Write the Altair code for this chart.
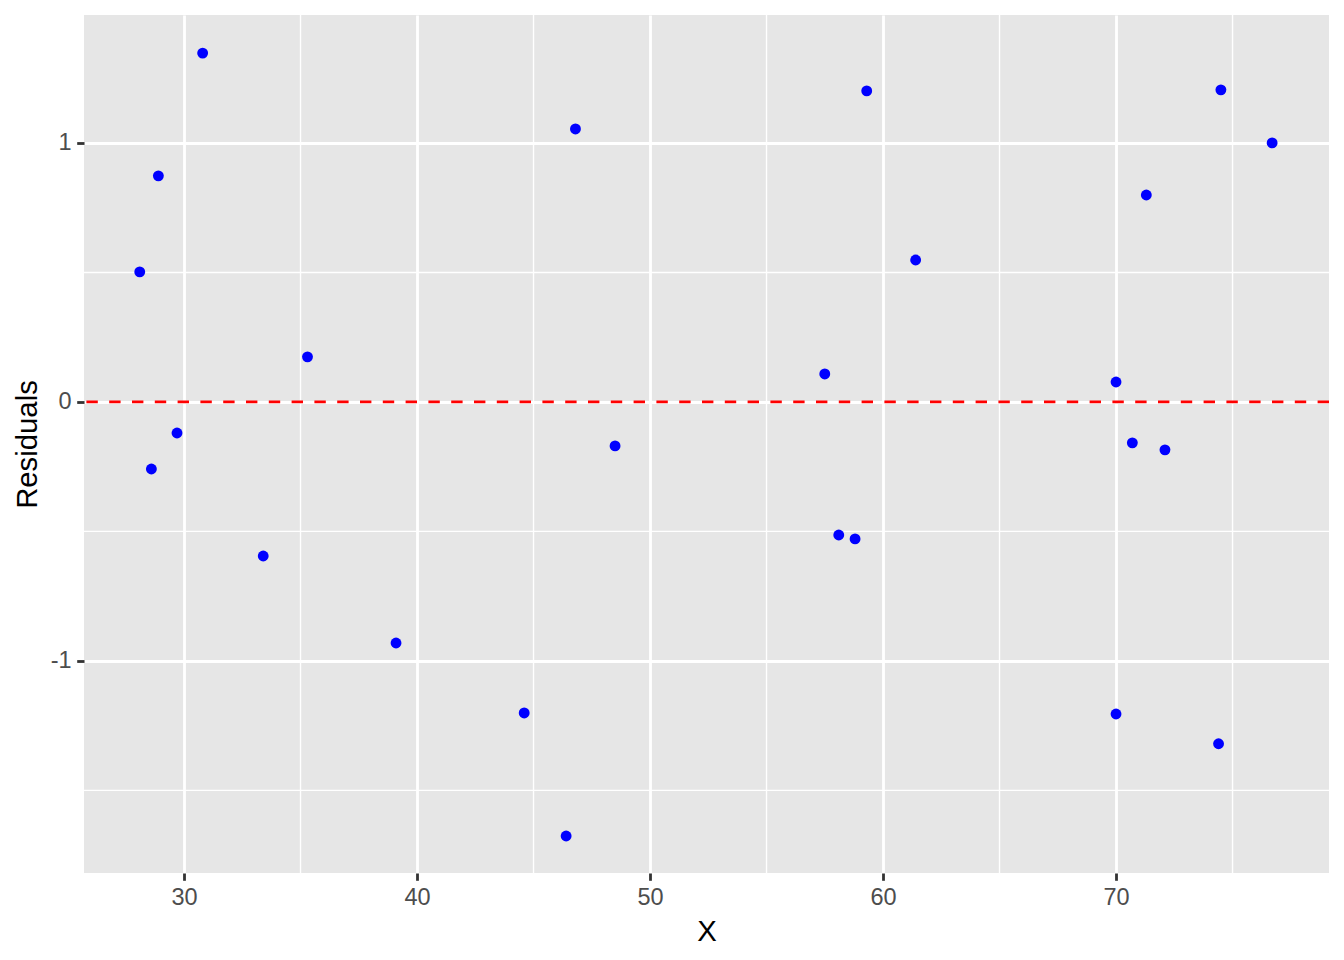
import altair as alt
import pandas as pd

# Data
x_vals = [28.1, 28.9, 28.6, 29.7, 30.8, 33.4, 35.3, 39.1, 44.6, 46.4, 46.8, 48.5,
          57.5, 58.1, 58.8, 59.3, 61.4, 70.0, 70.0, 70.7, 71.3, 72.1, 74.4, 74.5, 76.7]
resid_vals = [0.502, 0.873, -0.259, -0.120, 1.347, -0.595, 0.174, -0.931, -1.201, -1.676,
              1.054, -0.170, 0.108, -0.514, -0.529, 1.201, 0.548, 0.077, -1.205, -0.158,
              0.799, -0.185, -1.320, 1.205, 1.000]

x_major = [30, 40, 50, 60, 70]
x_minor = [35, 45, 55, 65, 75]
y_major = [-1, 0, 1]
y_minor = [-1.5, -0.5, 0.5]
hline_y = [0]

x_domain = [25.708, 79.14]
y_domain = [-1.819, 1.494]

points = pd.DataFrame({"X": x_vals, "Residuals": resid_vals})
xminor_df = pd.DataFrame({"X": x_minor})
yminor_df = pd.DataFrame({"Residuals": y_minor})
hline_df = pd.DataFrame({"Residuals": hline_y})

xscale = alt.Scale(domain=x_domain, nice=False, zero=False)
yscale = alt.Scale(domain=y_domain, nice=False, zero=False)

xaxis = alt.Axis(values=x_major, title="X", labelExpr="'' + datum.value")
yaxis = alt.Axis(values=y_major, title="Residuals", labelExpr="'' + datum.value")

minor_x = alt.Chart(xminor_df).mark_rule(color="white", strokeWidth=1.4).encode(
    x=alt.X("X:Q", scale=xscale, axis=xaxis)
)
minor_y = alt.Chart(yminor_df).mark_rule(color="white", strokeWidth=1.4).encode(
    y=alt.Y("Residuals:Q", scale=yscale, axis=yaxis)
)
hline = alt.Chart(hline_df).mark_rule(color="#FF0000", strokeWidth=2.6,
                                       strokeDash=[11.4, 11.4]).encode(
    y=alt.Y("Residuals:Q", scale=yscale, axis=yaxis)
)
pts = alt.Chart(points).mark_circle(color="#0000FF", opacity=1, size=118).encode(
    x=alt.X("X:Q", scale=xscale, axis=xaxis),
    y=alt.Y("Residuals:Q", scale=yscale, axis=yaxis),
)

chart = alt.layer(minor_x, minor_y, hline, pts).properties(
    width=1245, height=858,
    autosize=alt.AutoSizeParams(type="none"),
    padding={"left": 76, "top": 7, "right": 7, "bottom": 76},
    background="white",
).configure_view(
    fill="#E6E6E6", stroke=None
).configure_axis(
    grid=True, gridColor="white", gridWidth=2.8, domain=False,
    tickColor="#333333", tickWidth=2.8, tickSize=7.3,
    labelFont="Liberation Sans", labelFontSize=23.5, labelColor="#4D4D4D",
    labelPadding=5.5,
    titleFont="Liberation Sans", titleFontSize=29.3, titleColor="black",
    titleFontWeight="normal",
).configure_axisX(
    titlePadding=8, labelFlush=False
).configure_axisY(
    titlePadding=8, labelFlush=False
)

chart.save("out.html", embed_options={"renderer": "svg", "actions": False})
